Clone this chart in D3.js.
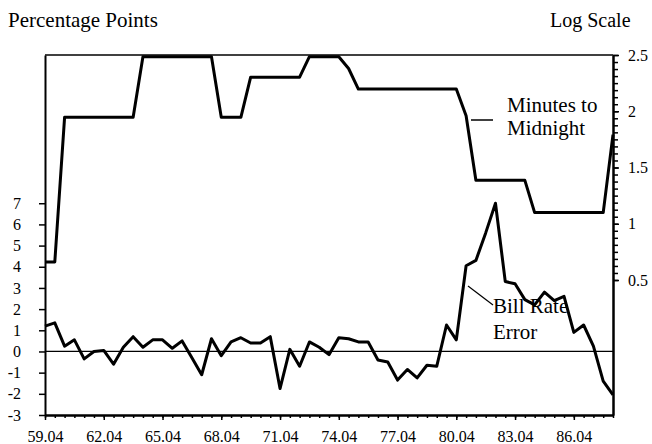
<!DOCTYPE html>
<html>
<head>
<meta charset="utf-8">
<script src="https://cdn.jsdelivr.net/npm/d3@7/dist/d3.min.js"></script>
<style>
  html, body { margin: 0; padding: 0; background: #fff; }
  svg { display: block; }
</style>
</head>
<body>
<svg id="chart" width="652" height="444"></svg>
<script>
// Semiannual observations, April 1959 through April 1988
const periods = [
  "59.04","59.10","60.04","60.10","61.04","61.10","62.04","62.10","63.04","63.10",
  "64.04","64.10","65.04","65.10","66.04","66.10","67.04","67.10","68.04","68.10",
  "69.04","69.10","70.04","70.10","71.04","71.10","72.04","72.10","73.04","73.10",
  "74.04","74.10","75.04","75.10","76.04","76.10","77.04","77.10","78.04","78.10",
  "79.04","79.10","80.04","80.10","81.04","81.10","82.04","82.10","83.04","83.10",
  "84.04","84.10","85.04","85.10","86.04","86.10","87.04","87.10","88.04"
];

// Bill rate forecast error, percentage points (left axis)
const billRateError = [
  1.2, 1.35, 0.25, 0.55, -0.35, 0.0, 0.05, -0.6, 0.2, 0.7,
  0.2, 0.55, 0.55, 0.15, 0.5, -0.3, -1.1, 0.6, -0.2, 0.45,
  0.65, 0.4, 0.4, 0.7, -1.75, 0.1, -0.7, 0.45, 0.2, -0.15,
  0.65, 0.6, 0.45, 0.45, -0.4, -0.5, -1.35, -0.85, -1.25, -0.65,
  -0.7, 1.25, 0.55, 4.05, 4.3, 5.6, 7.0, 3.3, 3.2, 2.45,
  2.2, 2.8, 2.4, 2.6, 0.9, 1.25, 0.25, -1.4, -2.05
];

// Minutes to midnight on the doomsday clock, natural log (right axis)
const logMinutes = [
  0.66, 0.66, 1.946, 1.946, 1.946, 1.946, 1.946, 1.946, 1.946, 1.946,
  2.485, 2.485, 2.485, 2.485, 2.485, 2.485, 2.485, 2.485, 1.946, 1.946,
  1.946, 2.303, 2.303, 2.303, 2.303, 2.303, 2.303, 2.485, 2.485, 2.485,
  2.485, 2.38, 2.197, 2.197, 2.197, 2.197, 2.197, 2.197, 2.197, 2.197,
  2.197, 2.197, 2.197, 1.96, 1.386, 1.386, 1.386, 1.386, 1.386, 1.386,
  1.099, 1.099, 1.099, 1.099, 1.099, 1.099, 1.099, 1.099, 1.792
];

const leftTicks = [-3, -2, -1, 0, 1, 2, 3, 4, 5, 6, 7];
const rightTicks = [0.5, 1, 1.5, 2, 2.5];
const xLabelIndex = [0, 6, 12, 18, 24, 30, 36, 42, 48, 54];

const FONT = "'Liberation Serif', 'Times New Roman', serif";

const svg = d3.select("#chart");
const plotLeft = 45, plotRight = 613, plotTop = 55, plotBottom = 415;

const x = d3.scaleLinear().domain([0, periods.length - 1]).range([plotLeft, plotRight]);
const yL = d3.scaleLinear().domain([-3, 14]).range([plotBottom, plotTop]);
const yR = d3.scaleLinear().domain([-0.7, 2.5]).range([plotBottom, plotTop]);

function addText(tx, ty, str, size) {
  return svg.append("text").attr("x", tx).attr("y", ty)
    .style("font-family", FONT).style("font-size", size + "px")
    .attr("fill", "#000").text(str);
}

// Titles
addText(8, 27, "Percentage Points", 21);
addText(550, 27, "Log Scale", 20);

// Top border of the plot frame
svg.append("line")
  .attr("x1", plotLeft).attr("x2", plotRight)
  .attr("y1", plotTop).attr("y2", plotTop)
  .attr("stroke", "#000").attr("stroke-width", 1.6);

// Zero reference line
svg.append("line")
  .attr("x1", plotLeft).attr("x2", plotRight)
  .attr("y1", yL(0)).attr("y2", yL(0))
  .attr("stroke", "#000").attr("stroke-width", 1.3);

function styleAxis(g) {
  g.select(".domain").attr("stroke", "#000").attr("stroke-width", 2);
  g.selectAll(".tick line").attr("stroke", "#000").attr("stroke-width", 1.5);
  g.selectAll(".tick text")
    .style("font-family", FONT).style("font-size", "16px").attr("fill", "#000");
}

// Left axis
svg.append("g")
  .attr("transform", `translate(${plotLeft},0)`)
  .call(d3.axisLeft(yL).tickValues(leftTicks).tickSize(6).tickSizeOuter(0).tickPadding(18).tickFormat(d => String(d)))
  .call(styleAxis);

// Right axis, minor then major ticks
const rightMinor = d3.range(0.5, 2.5001, 0.0625);
svg.append("g")
  .attr("transform", `translate(${plotRight},0)`)
  .call(d3.axisRight(yR).tickValues(rightMinor).tickSize(5).tickSizeOuter(0).tickFormat(""))
  .call(styleAxis);
svg.append("g")
  .attr("transform", `translate(${plotRight},0)`)
  .call(d3.axisRight(yR).tickValues(rightTicks).tickSize(6).tickSizeOuter(0).tickPadding(9).tickFormat(d => String(d)))
  .call(styleAxis);

// Bottom axis, minor ticks every half-year, labels every three years
svg.append("g")
  .attr("transform", `translate(0,${plotBottom})`)
  .call(d3.axisBottom(x).tickValues(d3.range(periods.length)).tickSize(3).tickSizeOuter(0).tickFormat(""))
  .call(styleAxis);
svg.append("g")
  .attr("transform", `translate(0,${plotBottom})`)
  .call(d3.axisBottom(x).tickValues(xLabelIndex).tickSize(5).tickSizeOuter(0).tickPadding(11).tickFormat(i => periods[i]))
  .call(styleAxis);

// Series lines
const lineL = d3.line().x((d, i) => x(i)).y(d => yL(d));
const lineR = d3.line().x((d, i) => x(i)).y(d => yR(d));

svg.append("path").datum(logMinutes)
  .attr("d", lineR).attr("fill", "none")
  .attr("stroke", "#000").attr("stroke-width", 3).attr("stroke-linejoin", "round");

svg.append("path").datum(billRateError)
  .attr("d", lineL).attr("fill", "none")
  .attr("stroke", "#000").attr("stroke-width", 3).attr("stroke-linejoin", "round");

// Series labels with leader lines
svg.append("line").attr("x1", 471).attr("x2", 493).attr("y1", 120).attr("y2", 120)
  .attr("stroke", "#000").attr("stroke-width", 1.5);
addText(507, 112, "Minutes to", 21);
addText(507, 135, "Midnight", 21);

svg.append("line").attr("x1", 468).attr("x2", 493).attr("y1", 286).attr("y2", 305)
  .attr("stroke", "#000").attr("stroke-width", 1.2);
addText(493, 313, "Bill Rate", 21);
addText(493, 339, "Error", 21);
</script>
</body>
</html>
